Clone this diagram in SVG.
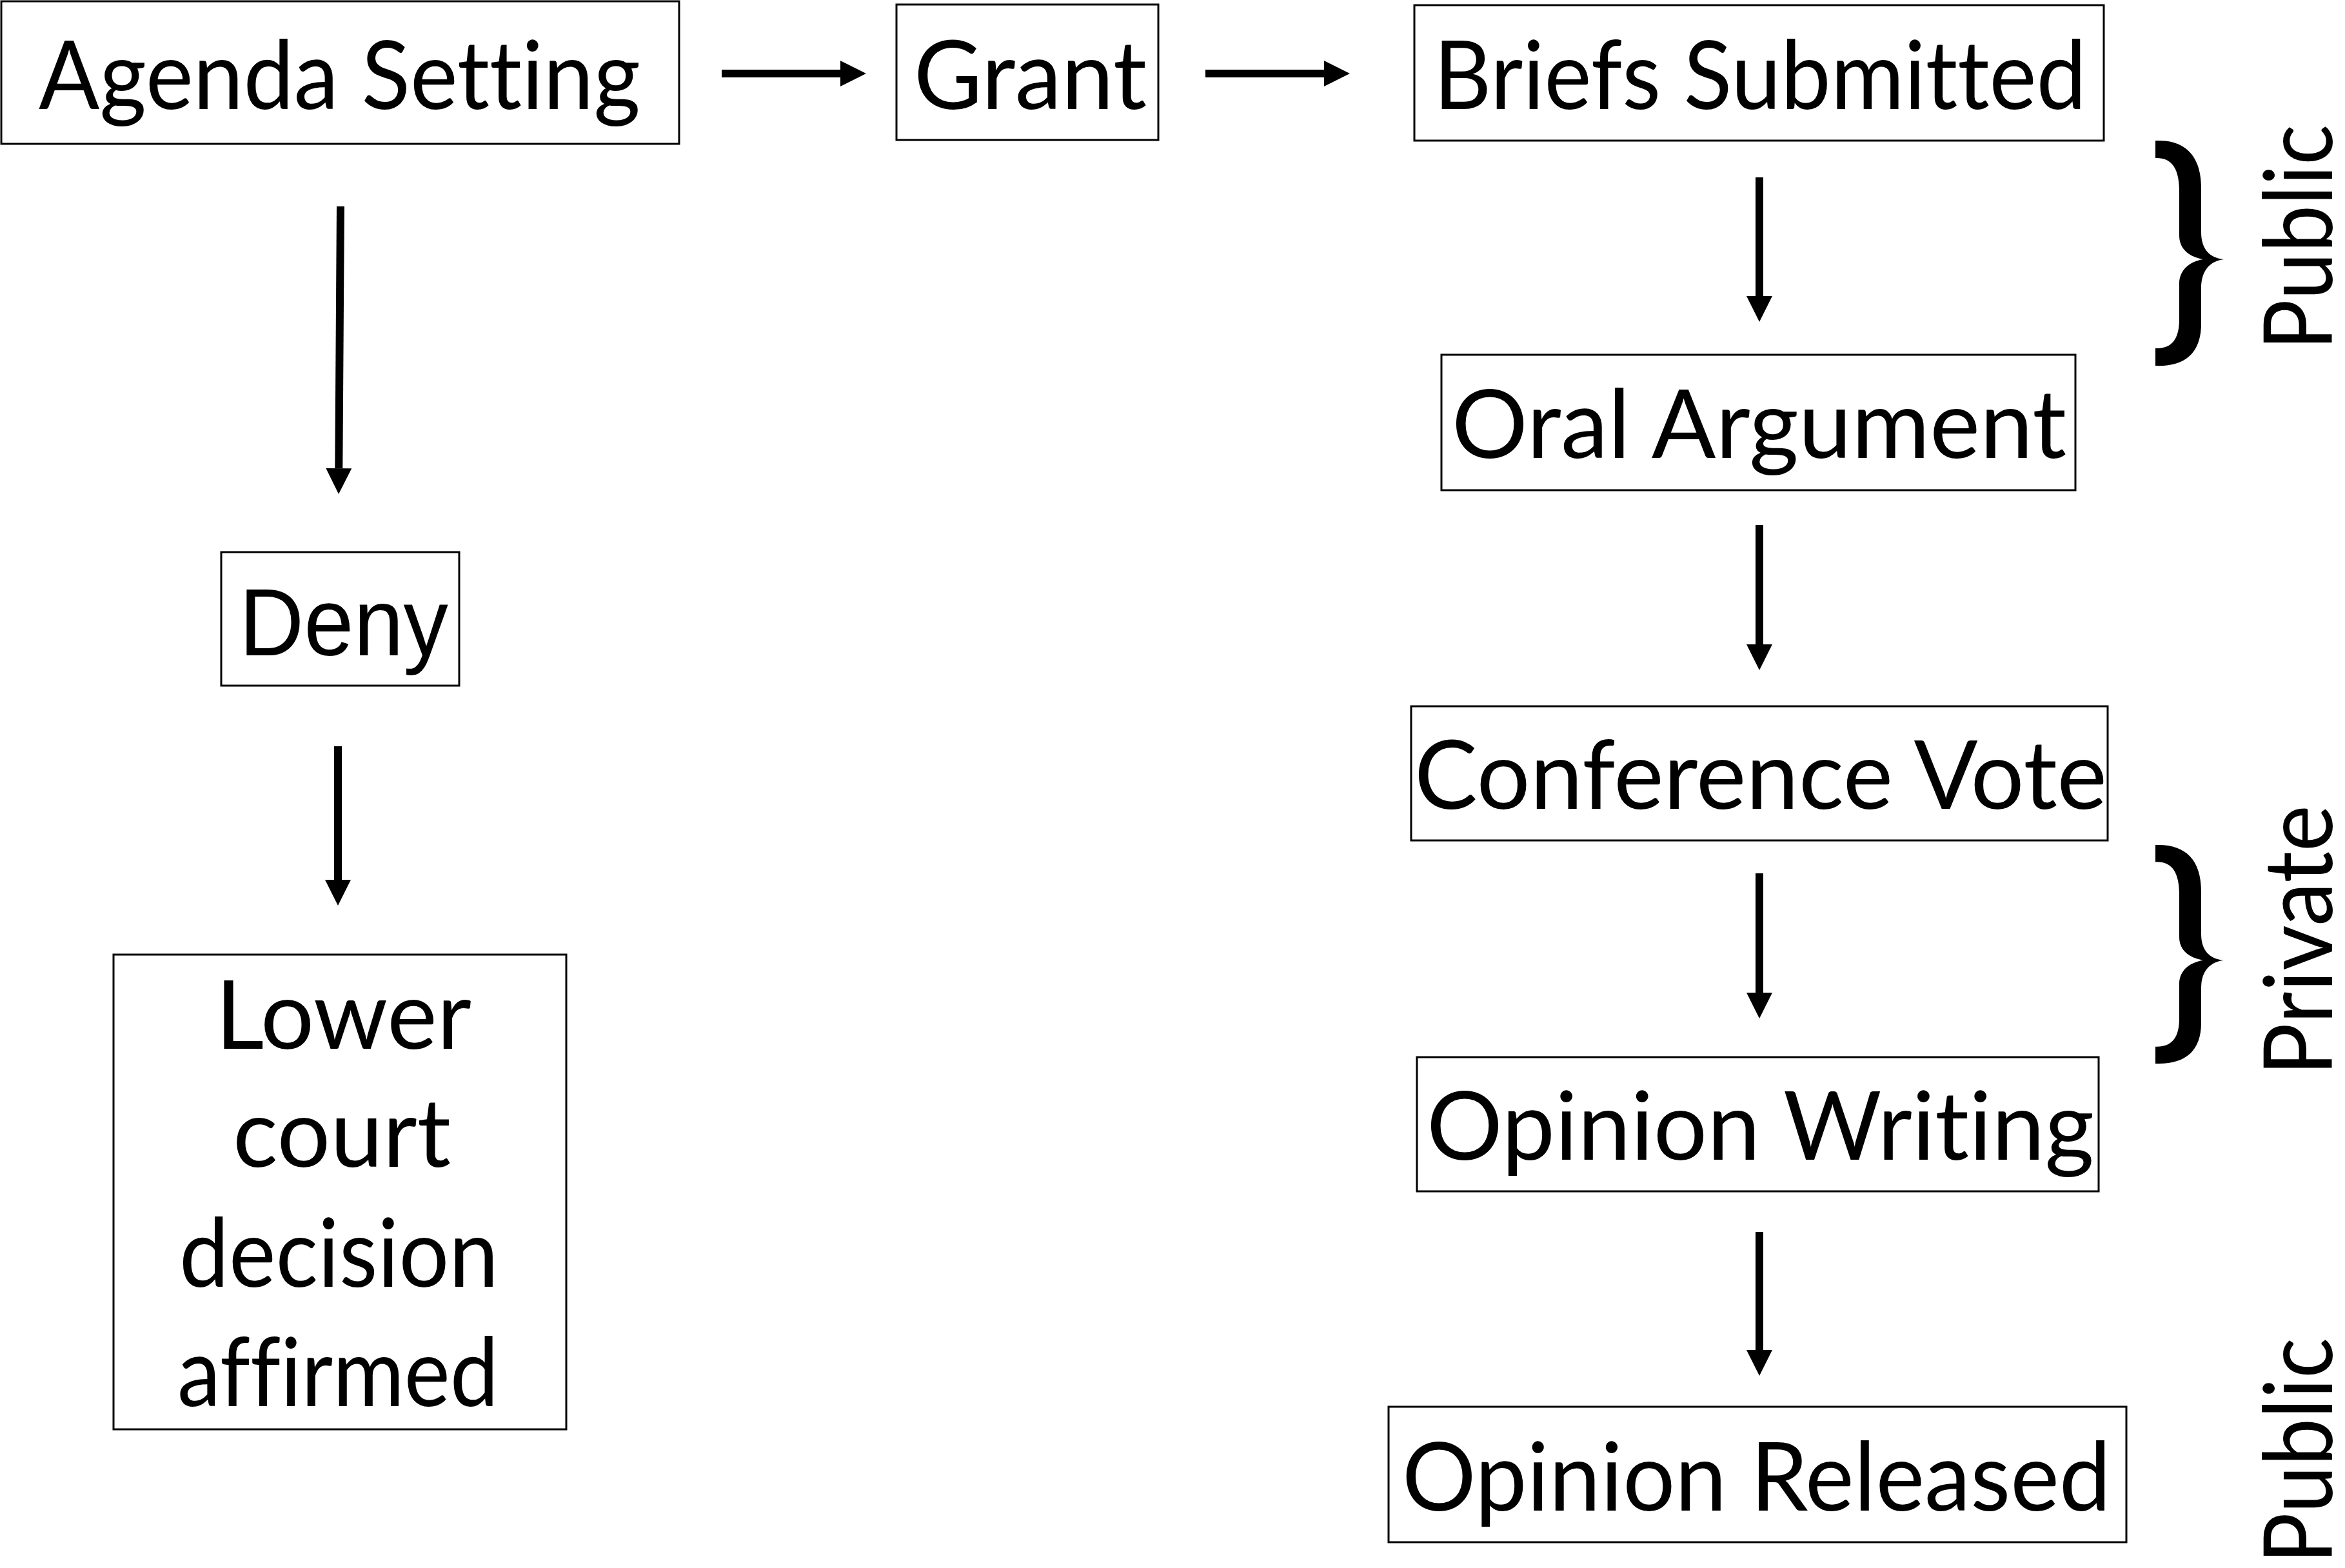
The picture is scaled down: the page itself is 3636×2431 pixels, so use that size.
<svg xmlns="http://www.w3.org/2000/svg" width="3636" height="2431" viewBox="0 0 3636 2431">
<style>
.box{fill:#fff;stroke:#000;stroke-width:3}
.t{font-family:Lato,"Open Sans","Liberation Sans",sans-serif;font-size:148px;fill:#000;font-variant-ligatures:none}
.ta{font-family:"Liberation Sans",Arial,sans-serif;font-size:148px;fill:#000}
.c{stroke:#000;stroke-width:12;fill:none;marker-end:url(#ah)}
.br{fill:#000}
</style>
<defs>
<marker id="ah" markerUnits="userSpaceOnUse" markerWidth="40" markerHeight="40" refX="0" refY="20" orient="auto" overflow="visible">
<path d="M0,0 L40,20 L0,40 Z" fill="#000"/>
</marker>
<path id="brace" d="M3342,218 C3387,216 3413,240 3413,292 L3413,360 C3413,386 3426,400 3448,402 C3426,405 3413,420 3413,447 L3413,502 C3413,548 3387,569 3342,567 L3342,540 C3368,541 3379,525 3379,495 L3379,440 C3379,420 3393,406 3416,402 C3393,398 3379,385 3379,365 L3379,297 C3379,262 3368,244 3342,245 Z"/>
</defs>
<rect width="3636" height="2431" fill="#fff"/>
<g id="connectors">
<line class="c" x1="1119" y1="114" x2="1303" y2="114"/>
<line class="c" x1="1869" y1="114" x2="2053" y2="114"/>
<line class="c" x1="2728" y1="275" x2="2728" y2="459"/>
<line class="c" x1="2728" y1="814" x2="2728" y2="999"/>
<line class="c" x1="2728" y1="1354" x2="2728" y2="1539"/>
<line class="c" x1="2728" y1="1910" x2="2728" y2="2093"/>
<line class="c" x1="528" y1="320" x2="525.3" y2="726"/>
<line class="c" x1="524" y1="1157" x2="524" y2="1364"/>
</g>
<g id="agenda-setting">
<rect class="box" x="2" y="2" width="1051" height="221"/>
<text class="t" x="60" y="169" textLength="933" lengthAdjust="spacingAndGlyphs">Agenda Setting</text>
</g>
<g id="grant">
<rect class="box" x="1390" y="7" width="406" height="210"/>
<text class="t" x="1417" y="169" textLength="361" lengthAdjust="spacingAndGlyphs">Grant</text>
</g>
<g id="briefs-submitted">
<rect class="box" x="2193" y="8" width="1069" height="210"/>
<text class="t" x="2223" y="169" textLength="1012" lengthAdjust="spacingAndGlyphs">Briefs Submitted</text>
</g>
<g id="oral-argument">
<rect class="box" x="2235" y="550" width="983" height="210"/>
<text class="t" x="2251" y="710" textLength="953" lengthAdjust="spacingAndGlyphs">Oral Argument</text>
</g>
<g id="conference-vote">
<rect class="box" x="2188" y="1095" width="1080" height="208"/>
<text class="t" x="2193" y="1254" textLength="1074" lengthAdjust="spacingAndGlyphs">Conference Vote</text>
</g>
<g id="opinion-writing">
<rect class="box" x="2197" y="1639" width="1057" height="208"/>
<text class="t" x="2212" y="1798" textLength="1035" lengthAdjust="spacingAndGlyphs">Opinion Writing</text>
</g>
<g id="opinion-released">
<rect class="box" x="2153" y="2181" width="1144" height="210"/>
<text class="t" x="2174" y="2342" textLength="1099" lengthAdjust="spacingAndGlyphs">Opinion Released</text>
</g>
<g id="deny">
<rect class="box" x="343" y="856" width="369" height="207"/>
<text class="ta" x="371" y="1016" textLength="324" lengthAdjust="spacingAndGlyphs">Deny</text>
</g>
<g id="lower-court">
<rect class="box" x="176" y="1480" width="702" height="736"/>
<text class="t" x="334" y="1626" textLength="397" lengthAdjust="spacingAndGlyphs">Lower</text>
<text class="t" x="361" y="1809" textLength="338" lengthAdjust="spacingAndGlyphs">court</text>
<text class="t" x="278" y="1995" textLength="495" lengthAdjust="spacingAndGlyphs">decision</text>
<text class="t" x="275" y="2180" textLength="498" lengthAdjust="spacingAndGlyphs">affirmed</text>
</g>
<g id="labels">
<use href="#brace" class="br"/>
<use href="#brace" class="br" transform="translate(0,1310) scale(1,0.971) translate(0,-218)"/>
<text class="t" transform="translate(3616,368) rotate(-90)" x="-175" y="0" textLength="350" lengthAdjust="spacingAndGlyphs">Public</text>
<text class="t" transform="translate(3616,1458) rotate(-90)" x="-210" y="0" textLength="420" lengthAdjust="spacingAndGlyphs">Private</text>
<text class="t" transform="translate(3616,2249) rotate(-90)" x="-175" y="0" textLength="350" lengthAdjust="spacingAndGlyphs">Public</text>
</g>
</svg>
